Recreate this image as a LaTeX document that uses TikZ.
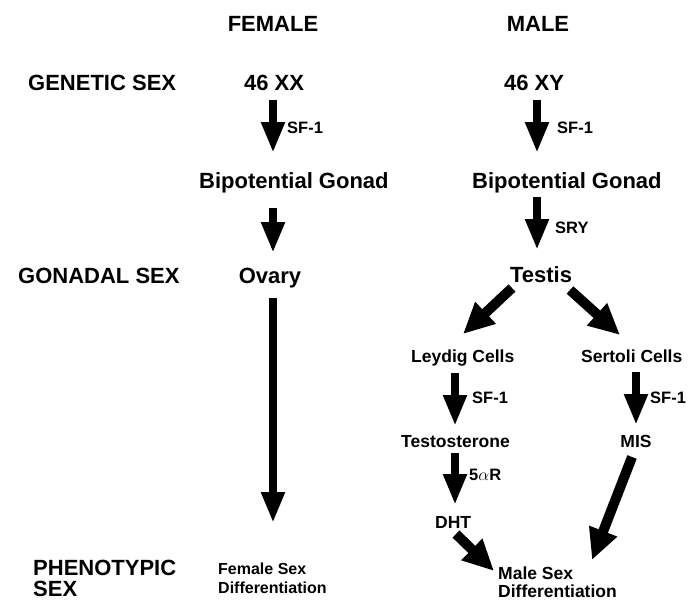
\documentclass[tikz,border=0pt]{standalone}
\usepackage{fontspec}
\setmainfont{Liberation Sans}
\usetikzlibrary{arrows.meta}
\begin{document}
\begin{tikzpicture}[x=1pt,y=-1pt,
  lbl/.style={inner sep=0pt, font=\bfseries\fontsize{22}{22}\selectfont},
  phe/.style={inner sep=0pt, font=\bfseries\fontsize{22}{20.5}\selectfont},
  mid/.style={inner sep=0pt, font=\bfseries\fontsize{17.5}{18}\selectfont},
  fsm/.style={inner sep=0pt, font=\bfseries\fontsize{16}{19}\selectfont},
  sml/.style={inner sep=0pt, font=\bfseries\fontsize{16.5}{17}\selectfont},
  arr/.style={line width=8.5pt, -{Triangle[width=22pt,length=31pt]}},
  darr/.style={line width=10pt, -{Triangle[width=28pt,length=31pt]}}]
\useasboundingbox (0,0) rectangle (699,602);
% headings
\node[lbl, anchor=base] (fem) at (273,32) {FEMALE};
\node[lbl, anchor=base] (mal) at (538,32) {MALE};
\node[lbl, anchor=base west] (gen) at (28,91) {GENETIC SEX};
\node[lbl, anchor=base west] (gon) at (18,283) {GONADAL SEX};
\node[phe, anchor=north west, align=left] (phe) at (33,560) {PHENOTYPIC\\SEX};
% female column
\node[lbl, anchor=base] (xx) at (274,91) {46 XX};
\node[lbl, anchor=base west] (bgf) at (199,188) {Bipotential Gonad};
\node[lbl, anchor=base] (ov) at (270,283) {Ovary};
\node[fsm, anchor=north west, align=left] (fsd) at (218,563) {Female Sex\\Differentiation};
% male column
\node[lbl, anchor=base] (xy) at (534,90) {46 XY};
\node[lbl, anchor=base west] (bgm) at (472,188) {Bipotential Gonad};
\node[lbl, anchor=base] (tes) at (541,282) {Testis};
\node[mid, anchor=base west] (ley) at (411,362) {Leydig Cells};
\node[mid, anchor=base west] (ser) at (581,362) {Sertoli Cells};
\node[mid, anchor=base west] (tst) at (401,447) {Testosterone};
\node[mid, anchor=base] (mis) at (636,447) {MIS};
\node[mid, anchor=base west] (dht) at (435,528) {DHT};
\node[mid, anchor=north west, align=left] (msd) at (498,567) {Male Sex\\Differentiation};
% arrow labels
\node[sml, anchor=base west] (l1) at (287,133) {SF-1};
\node[sml, anchor=base west] (l2) at (557,133) {SF-1};
\node[sml, anchor=base west] (l3) at (555,233) {SRY};
\node[sml, anchor=base west] (l4) at (472,403) {SF-1};
\node[sml, anchor=base west] (l5) at (650,403) {SF-1};
\node[sml, anchor=base west] (l6) at (469,480) {5\(\alpha\)R};
% arrow end points
\coordinate (f1a) at (273,100); \coordinate (f1b) at (273,153);
\coordinate (f2a) at (273,208); \coordinate (f2b) at (273,253);
\coordinate (f3a) at (273,298); \coordinate (f3b) at (273,523);
\coordinate (m1a) at (537,100); \coordinate (m1b) at (537,153);
\coordinate (m2a) at (537,197); \coordinate (m2b) at (537,250);
\coordinate (tla) at (512,288); \coordinate (tlb) at (463,334);
\coordinate (tsa) at (570,290); \coordinate (tsb) at (620,335);
\coordinate (l1a) at (455,373); \coordinate (l1b) at (455,426);
\coordinate (s1a) at (636,372); \coordinate (s1b) at (636,425);
\coordinate (l2a) at (455,453); \coordinate (l2b) at (455,505);
\coordinate (dma) at (456,534); \coordinate (dmb) at (494,571);
\coordinate (mma) at (632,457); \coordinate (mmb) at (592,560);
% arrows
\draw[arr] (f1a) -- (f1b);
\draw[arr] (f2a) -- (f2b);
\draw[arr] (f3a) -- (f3b);
\draw[arr] (m1a) -- (m1b);
\draw[arr] (m2a) -- (m2b);
\draw[darr] (tla) -- (tlb);
\draw[darr] (tsa) -- (tsb);
\draw[arr] (l1a) -- (l1b);
\draw[arr] (s1a) -- (s1b);
\draw[arr] (l2a) -- (l2b);
\draw[darr] (dma) -- (dmb);
\draw[darr] (mma) -- (mmb);
\end{tikzpicture}
\end{document}
